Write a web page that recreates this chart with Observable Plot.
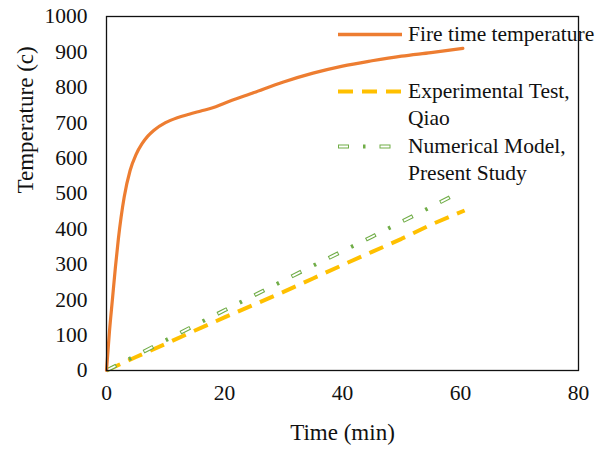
<!DOCTYPE html>
<html><head><meta charset="utf-8">
<script src="https://cdn.jsdelivr.net/npm/d3@7"></script>
<script src="https://cdn.jsdelivr.net/npm/@observablehq/plot@0.6"></script>
<style>
body{margin:0;background:#fff;}
#wrap{position:relative;width:600px;height:449px;font-family:"Liberation Serif","Times New Roman",serif;}
#wrap svg{display:block;}
#wrap svg text{font-family:"Liberation Serif","Times New Roman",serif;font-variant:normal;}
.leg{position:absolute;left:338px;font-size:21.5px;line-height:27px;color:#111;white-space:nowrap;}
.leg svg{position:absolute;left:0;}
.leg span{position:absolute;left:70px;}
</style></head><body><div id="wrap"></div>
<script>
// Fire time temperature curve
const fireTime = [0, 0.5, 1, 1.5, 2, 3, 4, 5, 6, 7, 8, 10, 12, 14, 16, 18, 20, 25, 30, 35, 40, 45, 50, 55, 60.4];
const fireTemp = [0, 110, 200, 290, 370, 490, 565, 610, 640, 662, 678, 700, 714, 724, 733, 742, 755, 785, 815, 840, 860, 875, 888, 898, 910];
// Experimental Test, Qiao
const expTime = [0, 5, 10, 15, 20, 25, 30, 35, 40, 45, 50, 55, 60.7];
const expTemp = [0, 38, 75, 113, 150, 186, 222, 260, 298, 335, 372, 412, 452];
// Numerical Model, Present Study
const numTime = [0, 5, 10, 15, 20, 25, 30, 35, 40, 45, 50, 55, 60];
const numTemp = [0, 42, 85, 128, 170, 212, 254, 296, 337, 378, 420, 462, 505];

const xTicks = [0, 20, 40, 60, 80];
const yTicks = [0, 100, 200, 300, 400, 500, 600, 700, 800, 900, 1000];
const seriesNames = ["Fire time temperature", "Experimental Test,\nQiao", "Numerical Model,\nPresent Study"];
const colors = ["#ED7D31", "#FFC000", "#70AD47"];

const fire = fireTime.map((t, i) => ({t, v: fireTemp[i]}));
const exp = expTime.map((t, i) => ({t, v: expTemp[i]}));
const num = numTime.map((t, i) => ({t, v: numTemp[i]}));

const serif = '"Liberation Serif","Times New Roman",serif';
const chart = Plot.plot({
  width: 600, height: 449,
  marginLeft: 106, marginRight: 22, marginTop: 16, marginBottom: 79,
  style: {fontFamily: serif, background: "#fff", color: "#111"},
  x: {domain: [0, 80]},
  y: {domain: [0, 1000]},
  marks: [
    Plot.axisX({ticks: xTicks, tickFormat: d => String(d), tickSize: 0, tickPadding: 14, fontSize: 21.5, fontFamily: serif, label: null}),
    Plot.axisY({ticks: yTicks, tickFormat: d => String(d), tickSize: 0, tickPadding: 19, fontSize: 21.5, fontFamily: serif, label: null}),
    Plot.text(["Time (min)"], {frameAnchor: "bottom", dy: 62, lineAnchor: "middle", fontSize: 23, fill: "#111"}),
    Plot.text(["Temperature (c)"], {frameAnchor: "left", dx: -81, rotate: -90, lineAnchor: "middle", fontSize: 23, fill: "#111"}),
    Plot.line(exp, {x: "t", y: "v", stroke: colors[1], strokeWidth: 4, strokeDasharray: "15,9", strokeLinecap: "butt"}),
    Plot.line(num, {x: "t", y: "v", stroke: colors[2], strokeWidth: 4, strokeDasharray: "11,14,2.5,14", strokeLinecap: "butt"}),
    Plot.line(num, {x: "t", y: "v", stroke: "#fff", strokeWidth: 1.8, strokeDasharray: "9,32.5", strokeDashoffset: -1, strokeLinecap: "butt"}),
    Plot.line(fire, {x: "t", y: "v", stroke: colors[0], strokeWidth: 3.2, curve: "monotone-x"}),
    Plot.frame({stroke: "#111", strokeWidth: 1.3})
  ]
});

const wrap = document.getElementById("wrap");
wrap.appendChild(chart);

// legend
const legTops = [34, 91, 146];
seriesNames.forEach((name, i) => {
  const d = document.createElement("div");
  d.className = "leg";
  d.style.top = (legTops[i] - 13.5) + "px";
  const ns = "http://www.w3.org/2000/svg";
  const sw = document.createElementNS(ns, "svg");
  sw.setAttribute("width", 66); sw.setAttribute("height", 27);
  const mk = (stroke, w, dash, off) => {
    const l = document.createElementNS(ns, "line");
    l.setAttribute("x1", 0); l.setAttribute("x2", 64);
    l.setAttribute("y1", 13.5); l.setAttribute("y2", 13.5);
    l.setAttribute("stroke", stroke); l.setAttribute("stroke-width", w);
    if (dash) l.setAttribute("stroke-dasharray", dash);
    if (off) l.setAttribute("stroke-dashoffset", off);
    sw.appendChild(l);
  };
  if (i === 0) mk(colors[0], 3.5);
  if (i === 1) mk(colors[1], 4, "15,9");
  if (i === 2) { mk(colors[2], 4, "11,14,2.5,14"); mk("#fff", 1.8, "9,32.5", -1); }
  d.appendChild(sw);
  name.split("\n").forEach((ln, j) => {
    const s = document.createElement("span");
    s.textContent = ln;
    s.style.top = (j * 27) + "px";
    d.appendChild(s);
  });
  wrap.appendChild(d);
});
</script></body></html>
